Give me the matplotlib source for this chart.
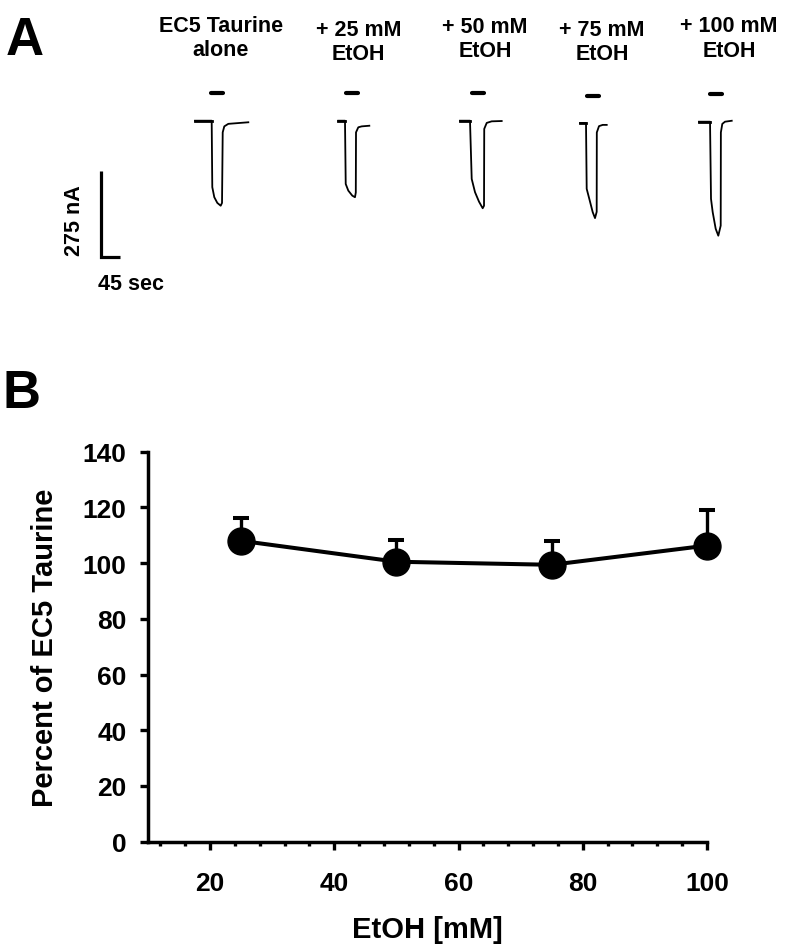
import numpy as np
import matplotlib
matplotlib.use("Agg")
import matplotlib.pyplot as plt
from matplotlib.ticker import MultipleLocator

plt.rcParams['font.family'] = ['Liberation Sans', 'DejaVu Sans']
plt.rcParams['font.weight'] = 'bold'

# ---------------- Panel A data (time in s, current in nA, relative to trace onset) ----------------
trace_labels = ["EC5 Taurine\nalone", "+ 25 mM\nEtOH", "+ 50 mM\nEtOH", "+ 75 mM\nEtOH", "+ 100 mM\nEtOH"]

trace1_t = [0, 38.9, 40.3, 45.0, 52.0, 59.9, 63.0, 64.6, 68.3, 77.7, 124.3]
trace1_i = [0, 0, -211, -243, -261, -270, -261, -37, -18, -10, -5]
trace2_t = [0, 15.6, 17.3, 23.3, 32.6, 38.9, 40.8, 41.3, 46.6, 54.6, 72.3]
trace2_i = [0, 0, -201, -222, -238, -243, -228, -37, -21, -18, -16]
trace3_t = [0, 23.3, 27.3, 35.0, 44.3, 52.9, 56.0, 56.5, 62.3, 73.9, 97.2]
trace3_i = [0, 0, -185, -227, -257, -278, -270, -26, -7, -2, -1]
trace4_t = [0, 14.0, 15.6, 21.7, 29.6, 35.0, 38.9, 39.2, 44.3, 52.9, 62.3]
trace4_i = [0, 0, -209, -241, -283, -302, -282, -30, -10, -6, -6]
trace5_t = [0, 25.7, 28.0, 31.9, 38.9, 45.0, 50.6, 51.0, 54.3, 60.6, 76.3]
trace5_i = [0, 0, -245, -287, -340, -362, -330, -34, -7, 0, 3]

app_start = [37.3, 17.3, 27.3, 17.0, 25.7]   # s, taurine application onset
app_dur = 28.0                                 # s
scale_nA = 275
scale_sec = 45

# ---------------- Panel B data ----------------
etoh_mM = [25, 50, 75, 100]
percent = [108.0, 100.5, 99.4, 106.3]
sem = [8.1, 7.8, 8.4, 12.9]
y_ticks = [0, 20, 40, 60, 80, 100, 120, 140]
x_ticks = [20, 40, 60, 80, 100]
x_tick_labels = ["20", "40", "60", "80", "100"]

# ---------------- Layout ----------------
W, H = 788, 953
fig = plt.figure(figsize=(W / 100, H / 100), dpi=100)

SPP = 45 / 19.3     # seconds per pixel in the trace panel
NPP = 275 / 86.6    # nA per pixel in the trace panel

ax_a = fig.add_axes([0, 0, 1, 1], zorder=0)
ax_a.set_xlim(0, W * SPP)
ax_a.set_ylim(-H * NPP, 0)
ax_a.axis('off')

traces = [(trace1_t, trace1_i), (trace2_t, trace2_i), (trace3_t, trace3_i),
          (trace4_t, trace4_i), (trace5_t, trace5_i)]
origins_px = [(195, 121.7), (338.3, 121.7), (460, 121.7), (580, 124), (699, 122.7)]
label_cx = [221, 358.5, 485, 602, 729]
label_by = [56, 60, 57.3, 60, 56.7]   # baseline of the second (last) line
bar_offset_px = 27.5

for k, (t, i) in enumerate(traces):
    ox, oy = origins_px[k]
    tx = np.array(t) + ox * SPP
    iy = np.array(i) - oy * NPP
    ax_a.plot(tx, iy, color='black', lw=1.3, solid_joinstyle='round')
    ax_a.plot(tx[:2], iy[:2], color='black', lw=2.0)
    # application bar
    x0 = ox * SPP + app_start[k]
    yb = -(oy - bar_offset_px) * NPP
    ax_a.plot([x0, x0 + app_dur], [yb, yb], color='black', lw=3.0, solid_capstyle='round')
    fig.text(label_cx[k] / W, 1 - label_by[k] / H, trace_labels[k], ha='center',
             va='baseline', fontsize=15.5, fontweight='bold', linespacing=1.2)

# scale bar
sx, sy = 100.7 * SPP, -258.3 * NPP
ax_a.plot([sx, sx, sx + scale_sec], [sy + scale_nA, sy, sy], color='black', lw=2.3,
          solid_joinstyle='miter', solid_capstyle='butt')
fig.text(74.5 / W, 1 - 221 / H, f"{scale_nA} nA", rotation=90, ha='center', va='center',
         fontsize=15.5, fontweight='bold')
fig.text(130.8 / W, 1 - 290 / H, f"{scale_sec} sec", ha='center', va='baseline',
         fontsize=15.5, fontweight='bold')

fig.text(6 / W, 1 - 55 / H, "A", ha='left', va='baseline', fontsize=38, fontweight='bold')
fig.text(3 / W, 1 - 408 / H, "B", ha='left', va='baseline', fontsize=38, fontweight='bold')

# ---------------- Panel B ----------------
left, right, top, bottom = 148, 707, 452.7, 842.7
ax_b = fig.add_axes([left / W, 1 - bottom / H, (right - left) / W, (bottom - top) / H], zorder=1)
ax_b.set_xlim(10, 100)
ax_b.set_ylim(0, 140)
ax_b.patch.set_alpha(0)

ax_b.errorbar(etoh_mM, percent, yerr=[np.zeros(len(sem)), sem], fmt='none', ecolor='black',
              elinewidth=2.4, capsize=5.8, capthick=2.9, zorder=2, clip_on=False)
ax_b.plot(etoh_mM, percent, color='black', lw=2.9, marker='o', ms=19.4, zorder=3, clip_on=False)

for s in ['top', 'right']:
    ax_b.spines[s].set_visible(False)
for s in ['left', 'bottom']:
    ax_b.spines[s].set_linewidth(2.5)

ax_b.set_yticks(y_ticks)
ax_b.set_yticklabels([str(v) for v in y_ticks])
ax_b.set_xticks(x_ticks)
ax_b.set_xticklabels(x_tick_labels)
ax_b.xaxis.set_minor_locator(MultipleLocator(4))
ax_b.tick_params(axis='y', which='major', length=5.8, width=2.4, direction='out', labelsize=19, pad=9.5)
ax_b.tick_params(axis='x', which='major', length=5.8, width=2.4, direction='out', labelsize=19, pad=15)
ax_b.tick_params(axis='x', which='minor', length=3, width=2.4, direction='out')
for lab in ax_b.get_xticklabels() + ax_b.get_yticklabels():
    lab.set_fontweight('bold')

ax_b.set_xlabel("EtOH [mM]", fontsize=21, fontweight='bold')
ax_b.xaxis.set_label_coords(0.5, -(916 - bottom) / (bottom - top))
ax_b.set_ylabel("Percent of EC5 Taurine", fontsize=21, fontweight='bold')
ax_b.yaxis.set_label_coords((59 - left) / (right - left), 0.5)

fig.savefig("out.png", dpi=100)
